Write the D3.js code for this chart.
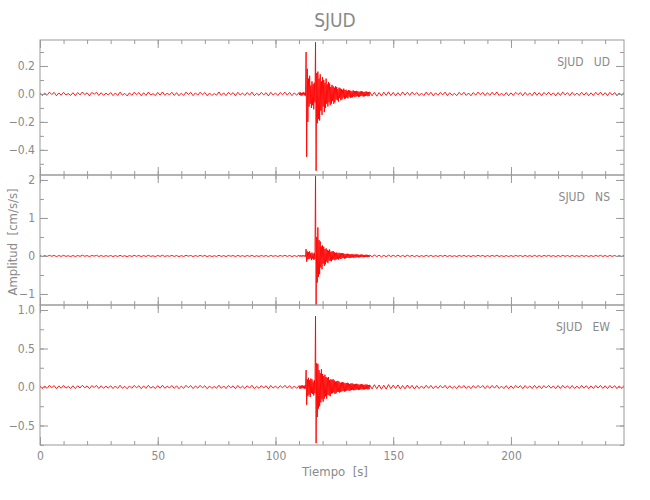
<!DOCTYPE html>
<html><head><meta charset="utf-8">
<script src="https://cdn.jsdelivr.net/npm/d3@7/dist/d3.min.js"></script>
<style>
body{margin:0;background:#fff;}
text{font-family:"Liberation Sans Narrow","DejaVu Sans Condensed","DejaVu Sans",sans-serif;fill:#8a8a8a;}
</style></head><body>
<script>
// ---------- DATA ----------
const title = "SJUD";
const channels = ["SJUD   UD", "SJUD   NS", "SJUD   EW"];
const xTicks = [0, 50, 100, 150, 200];
const udTicks = [-0.4, -0.2, 0.0, 0.2];
const nsTicks = [-1, 0, 1, 2];
const ewTicks = [-0.5, 0.0, 0.5, 1.0];
const udDomain = [-0.58, 0.386];
const nsDomain = [-1.29, 2.13];
const ewDomain = [-0.753, 1.065];

// sample grids (s): pre-event every 1 s, event every 0.25 s, post-event every 1 s
const tPre = d3.range(0, 110, 1);
const tEvent = d3.range(110, 140, 0.25);
const tPost = d3.range(140, 249, 1);

// amplitudes in units of 0.001 cm/s/s
const udPre = [9,-12,6,-10,13,-4,11,-13,7,-9,
 12,-8,3,-11,9,-12,10,-7,14,-5,
 8,-13,11,-2,12,-11,9,-10,6,-8,
 10,-12,7,-11,13,-9,4,-14,8,-10,
 12,-6,10,-13,9,-11,13,-8,2,-12,
 11,-9,14,-10,5,-7,12,-11,9,-13,
 6,-10,13,-4,11,-12,8,-9,12,-6,
 10,-13,7,-11,3,-9,14,-10,8,-12,
 11,-5,9,-13,12,-8,6,-11,10,-9,
 13,-12,4,-10,11,-7,9,-14,12,-8,
 7,-11,10,-6,13,-9,11,-12,8,-10];
const udEvent = [10,-8,12,-11,7,-13,9,-6,13,-10,8,-12,
 300,-450,180,-200,
 110,-90,130,-70,60,-100,90,-80,70,-110,80,-60,
 370,-550,150,-210,
 160,-180,110,-190,140,-120,90,-150,
 120,-90,100,-130,80,-100,110,-70,
 70,-90,85,-60,75,-80,50,-70,
 65,-50,55,-70,45,-60,55,-40,
 50,-45,35,-55,45,-30,40,-45,
 35,-40,30,-25,38,-35,28,-32,
 30,-26,22,-32,27,-20,25,-28,
 22,-25,18,-24,26,-17,21,-23,
 20,-18,22,-16,19,-21,15,-20,
 18,-15,20,-14,17,-19,13,-17,
 16,-14,18,-12,15,-17,13,-15];
const udPost = [15,-13,12,-16,10,-14,13,-11,15,-12,
 11,-13,9,-12,14,-8,12,-10,13,-7,
 10,-12,6,-11,13,-9,12,-13,8,-10,
 11,-7,13,-12,9,-10,4,-12,11,-8,
 12,-11,7,-13,10,-9,13,-6,11,-12,
 9,-10,12,-8,14,-11,6,-12,10,-13,
 8,-11,12,-5,10,-13,11,-9,7,-12,
 13,-10,9,-12,11,-6,12,-9,8,-13,
 10,-11,13,-7,9,-12,11,-10,6,-11,
 12,-9,10,-13,8,-11,12,-7,13,-10,
 9,-12,11,-8,10,-13,7,-11,12];

const nsPre = [14,-16,10,-13,17,-8,15,-17,11,-12,
 16,-11,6,-15,12,-16,13,-10,18,-9,
 11,-17,14,-5,16,-14,12,-13,9,-11,
 13,-16,10,-14,17,-12,7,-18,11,-13,
 16,-9,13,-17,12,-14,17,-11,5,-16,
 14,-12,18,-13,8,-10,16,-14,12,-17,
 9,-13,17,-7,14,-16,11,-12,16,-9,
 13,-17,10,-14,6,-12,18,-13,11,-16,
 14,-8,12,-17,16,-11,9,-14,13,-12,
 17,-16,7,-13,14,-10,12,-18,16,-11,
 10,-14,13,-9,17,-12,14,-16,11,-13];
const nsEvent = [15,-12,18,-14,10,-17,13,-9,16,-13,12,-15,
 180,-150,120,-90,
 100,-80,120,-60,70,-110,90,-70,60,-100,80,-90,
 2100,-1300,500,-700,
 750,-550,420,-480,380,-300,250,-350,
 280,-200,240,-260,180,-220,200,-150,
 160,-190,140,-120,170,-130,110,-140,
 120,-100,130,-90,100,-115,80,-95,
 90,-80,70,-95,85,-65,75,-80,
 70,-60,75,-55,65,-70,50,-60,
 55,-50,60,-45,52,-55,40,-50,
 48,-42,50,-38,45,-47,35,-42,
 40,-36,44,-32,38,-40,30,-36,
 35,-30,38,-28,33,-35,27,-31,
 30,-27,33,-25,29,-31,24,-28];
const nsPost = [22,-19,25,-17,20,-23,18,-21,24,-16,
 19,-15,21,-18,14,-17,20,-13,16,-19,
 13,-16,10,-14,17,-12,15,-16,11,-13,
 14,-10,16,-15,12,-13,7,-15,14,-11,
 15,-14,10,-16,13,-12,16,-9,14,-15,
 12,-13,15,-11,17,-14,9,-15,13,-16,
 11,-14,15,-8,13,-16,14,-12,10,-15,
 16,-13,12,-15,14,-9,15,-12,11,-16,
 13,-14,16,-10,12,-15,14,-13,9,-14,
 15,-12,13,-16,11,-14,15,-10,16,-13,
 12,-15,14,-11,13,-16,10,-14,15];

const ewPre = [18,-21,13,-17,22,-9,19,-22,14,-16,
 20,-15,8,-19,16,-21,17,-13,23,-11,
 15,-22,18,-6,20,-19,16,-17,12,-15,
 17,-20,13,-18,22,-16,9,-23,14,-17,
 21,-11,17,-22,15,-18,22,-14,7,-20,
 18,-16,23,-17,10,-13,20,-18,16,-22,
 12,-17,22,-9,18,-20,14,-15,21,-11,
 16,-22,13,-18,8,-15,23,-17,14,-20,
 19,-10,15,-22,20,-14,11,-18,17,-15,
 22,-21,9,-17,18,-13,16,-23,20,-14,
 13,-18,17,-11,22,-15,18,-20,14,-17];
const ewEvent = [18,-20,15,-22,19,-14,21,-17,16,-23,20,-18,
 220,-230,100,-120,
 120,-100,90,-130,110,-80,100,-90,70,-110,90,-80,
 920,-730,310,-390,
 300,-280,220,-250,180,-200,230,-160,
 170,-190,140,-150,160,-120,130,-150,
 120,-100,130,-110,90,-120,100,-85,
 95,-80,100,-70,85,-90,70,-80,
 75,-65,80,-60,70,-72,55,-65,
 60,-55,65,-50,58,-60,48,-55,
 52,-46,55,-42,48,-50,40,-45,
 45,-40,48,-36,42,-44,35,-40,
 40,-35,42,-32,37,-39,30,-35,
 35,-31,37,-29,33,-35,28,-31,
 31,-28,33,-26,30,-32,25,-29];
const ewPost = [28,-25,30,-22,26,-29,24,-27,31,-21,
 25,-20,27,-24,19,-23,26,-18,22,-25,
 18,-21,14,-19,22,-16,20,-21,15,-18,
 19,-14,21,-20,16,-18,10,-20,19,-15,
 20,-19,14,-21,18,-16,21,-12,19,-20,
 17,-18,20,-15,22,-19,12,-20,18,-21,
 15,-19,20,-11,18,-21,19,-16,14,-20,
 21,-18,16,-20,19,-12,20,-16,15,-21,
 18,-19,21,-14,16,-20,19,-18,12,-19,
 20,-16,18,-21,15,-19,20,-14,21,-18,
 16,-20,19,-15,18,-21,14,-19,20];
const unit = 0.001; // array units -> cm/s/s

// ---------- CHART ----------
const W = 650, H = 500;
const left = 40, right = 624;
const panels = [
  {name: channels[0], top: 40, bottom: 175, domain: udDomain, ticks: udTicks, minor: 0.1, fmt: d3.format(".1f"),
   pre: udPre, ev: udEvent, post: udPost},
  {name: channels[1], top: 175, bottom: 305, domain: nsDomain, ticks: nsTicks, minor: 0.5, fmt: d3.format("d"),
   pre: nsPre, ev: nsEvent, post: nsPost},
  {name: channels[2], top: 305, bottom: 445, domain: ewDomain, ticks: ewTicks, minor: 0.25, fmt: d3.format(".1f"),
   pre: ewPre, ev: ewEvent, post: ewPost}
];

const svg = d3.select("body").append("svg").attr("width", W).attr("height", H);
const x = d3.scaleLinear().domain([0, 248]).range([left, right]);
const xMinor = d3.range(0, 249, 10);
const axisColor = "#9a9a9a";

function zip(ts, vs){ const n = Math.min(ts.length, vs.length); return d3.range(n).map(i => [ts[i], vs[i] * unit]); }

function styleAxis(g){
  g.select(".domain").remove();
  g.selectAll("line").attr("stroke", axisColor).attr("stroke-width", 1);
  g.selectAll("text").attr("fill", "#8a8a8a").style("font-size", "12px");
}

panels.forEach((p, i) => {
  const y = d3.scaleLinear().domain(p.domain).range([p.bottom, p.top]);
  const yMinor = d3.range(Math.ceil(p.domain[0] / p.minor) * p.minor, p.domain[1] + 1e-9, p.minor);

  const clipId = "clip" + i;
  svg.append("clipPath").attr("id", clipId).append("rect")
    .attr("x", left).attr("y", p.top).attr("width", right - left).attr("height", p.bottom - p.top);

  const data = zip(tPre, p.pre).concat(zip(tEvent, p.ev), zip(tPost, p.post));
  const line = d3.line().x(d => x(d[0])).y(d => y(d[1]));
  svg.append("path").datum(data).attr("clip-path", `url(#${clipId})`)
    .attr("d", line).attr("fill", "none").attr("stroke", "#ff0000").attr("stroke-width", 0.9);

  svg.append("g").attr("transform", `translate(${left},0)`)
    .call(d3.axisLeft(y).tickValues(yMinor).tickSize(-4).tickFormat("")).call(styleAxis);
  svg.append("g").attr("transform", `translate(${left},0)`)
    .call(d3.axisLeft(y).tickValues(p.ticks).tickSize(-8).tickPadding(5).tickFormat(p.fmt)).call(styleAxis);
  svg.append("g").attr("transform", `translate(${right},0)`)
    .call(d3.axisRight(y).tickValues(yMinor).tickSize(-4).tickFormat("")).call(styleAxis);
  svg.append("g").attr("transform", `translate(${right},0)`)
    .call(d3.axisRight(y).tickValues(p.ticks).tickSize(-8).tickFormat("")).call(styleAxis);
  svg.append("g").attr("transform", `translate(0,${p.top})`)
    .call(d3.axisTop(x).tickValues(xMinor).tickSize(-4).tickFormat("")).call(styleAxis);
  svg.append("g").attr("transform", `translate(0,${p.top})`)
    .call(d3.axisTop(x).tickValues(xTicks).tickSize(-8).tickFormat("")).call(styleAxis);
  svg.append("g").attr("transform", `translate(0,${p.bottom})`)
    .call(d3.axisBottom(x).tickValues(xMinor).tickSize(-4).tickFormat("")).call(styleAxis);
  svg.append("g").attr("transform", `translate(0,${p.bottom})`)
    .call(d3.axisBottom(x).tickValues(xTicks).tickSize(-8).tickPadding(6)
      .tickFormat(i === panels.length - 1 ? d3.format("d") : "")).call(styleAxis);

  svg.append("rect").attr("x", left).attr("y", p.top).attr("width", right - left).attr("height", p.bottom - p.top)
    .attr("fill", "none").attr("stroke", axisColor).attr("stroke-width", 1);

  svg.append("text").attr("x", 610).attr("y", p.top + 26).attr("text-anchor", "end")
    .style("font-size", "12px").style("white-space", "pre").text(p.name);
});

svg.append("text").attr("x", 335).attr("y", 27).attr("text-anchor", "middle")
  .style("font-size", "19px").text(title);
svg.append("text").attr("x", 335).attr("y", 476).attr("text-anchor", "middle")
  .style("font-size", "13px").style("white-space", "pre").text("Tiempo  [s]");
svg.append("text").attr("transform", "translate(17,242) rotate(-90)").attr("text-anchor", "middle")
  .style("font-size", "13px").style("white-space", "pre").text("Amplitud  [cm/s/s]");
</script>
</body></html>
